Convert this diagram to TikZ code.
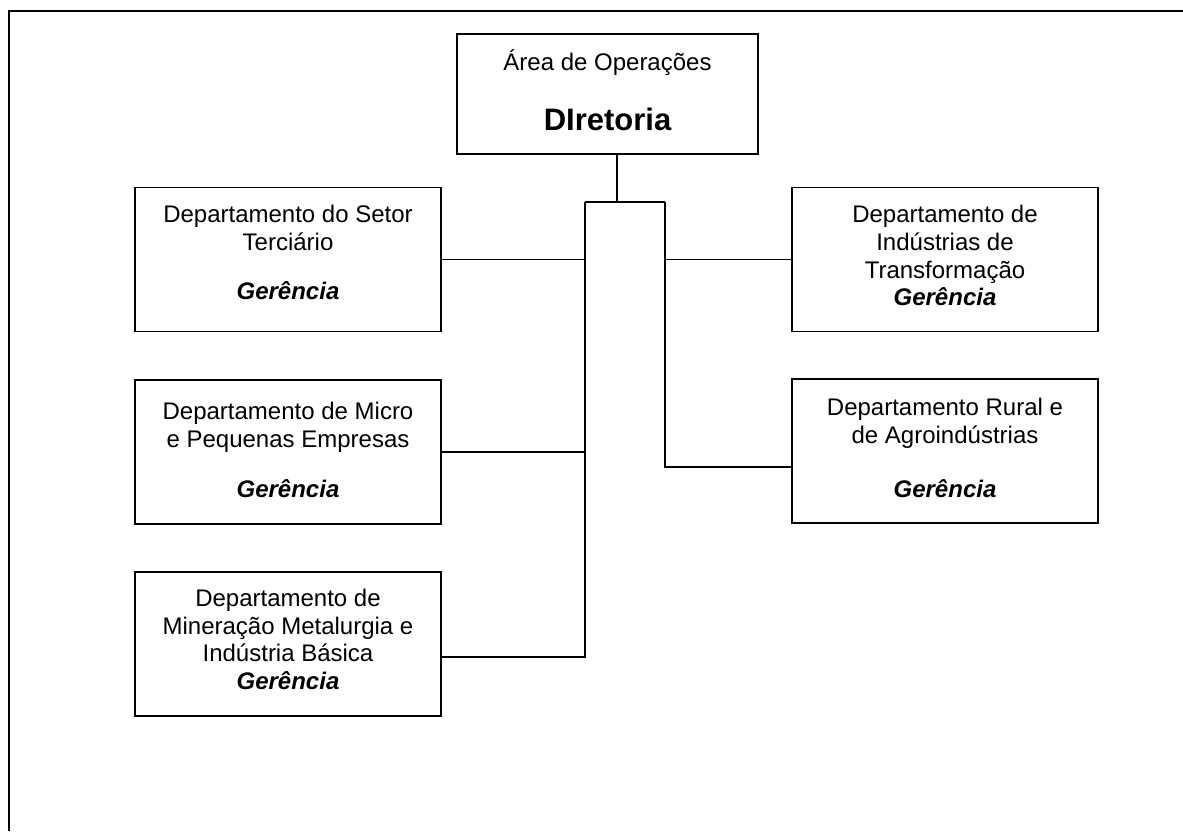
\documentclass[tikz,border=0pt]{standalone}
\usepackage{fontspec}
\setmainfont{Liberation Sans}
\usetikzlibrary{positioning}
\newcommand\gerencia{\textbf{\textit{Gerência}}}
\begin{document}
\begin{tikzpicture}[x=0.5pt,y=-0.5pt,line width=0.9pt,
  font=\fontsize{12}{13.85}\selectfont,
  deptbox/.style={draw,minimum width=153pt,minimum height=72pt,inner sep=0pt},
  topbox/.style={draw,minimum width=150.5pt,minimum height=60pt,inner sep=0pt,align=center},
  depttext/.style={align=center,inner sep=0pt}]
  \useasboundingbox (0,0) rectangle (1183,831);
  \draw[line width=1.1pt] (9,831) -- (9,11) -- (1183,11);

  \node[topbox] (dir) at (607.5,94) {Área de Operações\\[16.5pt]{\fontsize{15.5}{18}\selectfont\bfseries DIretoria}\rule[-4pt]{0pt}{0pt}};

  \node[deptbox] (terc) at (288,259.5) {};
  \node[depttext,below=9pt of terc.north] (tercT) {Departamento do Setor\\Terciário\\[10.5pt]\gerencia};
  \node[deptbox] (micro) at (288,452) {};
  \node[depttext,below=11pt of micro.north] (microT) {Departamento de Micro\\e Pequenas Empresas\\[11.5pt]\gerencia};
  \node[deptbox] (mine) at (288,644) {};
  \node[depttext,below=8.5pt of mine.north] (mineT) {Departamento de\\Mineração Metalurgia e\\Indústria Básica\\\gerencia};
  \node[deptbox] (transf) at (945,259.5) {};
  \node[depttext,below=9pt of transf.north] (transfT) {Departamento de\\Indústrias de\\Transformação\\\gerencia};
  \node[deptbox] (rural) at (945,451) {};
  \node[depttext,below=9.5pt of rural.north] (ruralT) {Departamento Rural e\\de Agroindústrias\\[13.5pt]\gerencia};

  \coordinate (busL) at (585,202);
  \coordinate (busR) at (665,202);
  \coordinate (stem) at (617,202);
  \draw (dir.south -| stem) -- (stem);
  \draw (busL) -- (busR);
  \draw (terc.east) -- (terc.east -| busL);
  \draw (micro.east) -- (micro.east -| busL);
  \draw ([yshift=-6.5pt]mine.east) -| (busL);
  \draw (transf.west) -- (transf.west -| busR);
  \draw ([yshift=-8pt]rural.west) -| (busR);
\end{tikzpicture}
\end{document}
